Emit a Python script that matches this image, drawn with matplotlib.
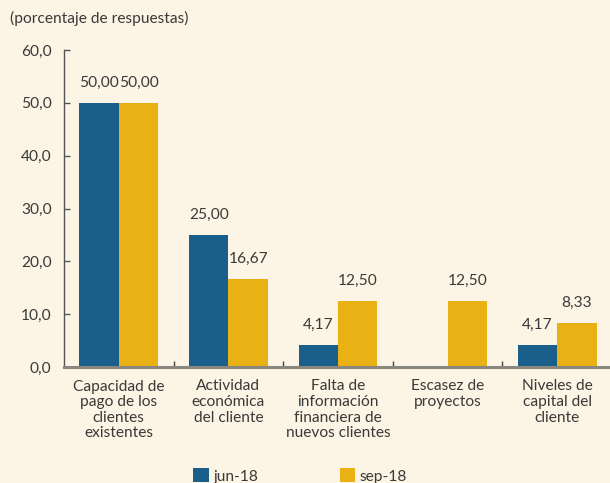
import matplotlib.pyplot as plt
import numpy as np

categorias = ["Capacidad de\npago de los\nclientes\nexistentes",
              "Actividad\neconómica\ndel cliente",
              "Falta de\ninformación\nfinanciera de\nnuevos clientes",
              "Escasez de\nproyectos",
              "Niveles de\ncapital del\ncliente"]
jun18 = [50.00, 25.00, 4.17, 0.0, 4.17]
sep18 = [50.00, 16.67, 12.50, 12.50, 8.33]
series = ["jun-18", "sep-18"]
yticks = [0, 10, 20, 30, 40, 50, 60]

bg = "#fcf4e4"
azul = "#1a5e8c"
amarillo = "#e9b114"
texto = "#3a3a3a"
fs = 11.2

plt.rcParams['font.family'] = ['Lato', 'DejaVu Sans']

fig = plt.figure(figsize=(6.10, 4.83), dpi=100, facecolor=bg)
# axes: x from 64 to 612 px, y from 367 (0) to 50 (60)
ax = fig.add_axes([64/610, (483-367)/483, (612-64)/610, (367-50)/483])
ax.set_facecolor(bg)

x = np.arange(len(categorias))
w = 0.36
b1 = ax.bar(x - w/2, jun18, w, color=azul, label=series[0])
b2 = ax.bar(x + w/2, sep18, w, color=amarillo, label=series[1])

for xi, v in zip(x, jun18):
    if v > 0:
        ax.text(xi - w/2, v + 2.4, f"{v:.2f}".replace(".", ","), ha="center",
                va="bottom", fontsize=fs, color=texto)
for xi, v in zip(x, sep18):
    ax.text(xi + w/2, v + 2.4, f"{v:.2f}".replace(".", ","), ha="center",
            va="bottom", fontsize=fs, color=texto)

ax.set_xlim(-0.5, len(categorias) - 0.5)
ax.set_ylim(0, 60)
ax.set_yticks(yticks)
ax.set_yticklabels([f"{t:.1f}".replace(".", ",") for t in yticks], fontsize=fs, color=texto)

ax.set_xticks(x)
ax.set_xticklabels(categorias, fontsize=fs, color=texto, linespacing=1.15, va="top")
ax.tick_params(axis="x", length=0, pad=9)
ax.set_xticks(x[:-1] + 0.5, minor=True)
ax.tick_params(axis="x", which="minor", direction="in", length=4, width=1, color="#444444")
ax.tick_params(axis="y", direction="in", length=4, width=1, color="#555555", pad=9)

for s in ["top", "right"]:
    ax.spines[s].set_visible(False)
ax.spines["left"].set_color("#555555")
ax.spines["left"].set_linewidth(1)
ax.spines["bottom"].set_color("#8a8680")
ax.spines["bottom"].set_linewidth(2.2)

fig.text(10/610, 1 - 18/483, "(porcentaje de respuestas)", fontsize=fs,
         color=texto, ha="left", va="center")

fig.legend(handles=[b1, b2], labels=series, loc="center left", ncol=2,
           bbox_to_anchor=(193/610, 1 - 476/483), frameon=False, fontsize=fs,
           handlelength=1.0, handleheight=1.0, columnspacing=5.25, handletextpad=0.3,
           labelcolor=texto, borderaxespad=0, borderpad=0)

fig.savefig("out.png", dpi=100, facecolor=bg)
